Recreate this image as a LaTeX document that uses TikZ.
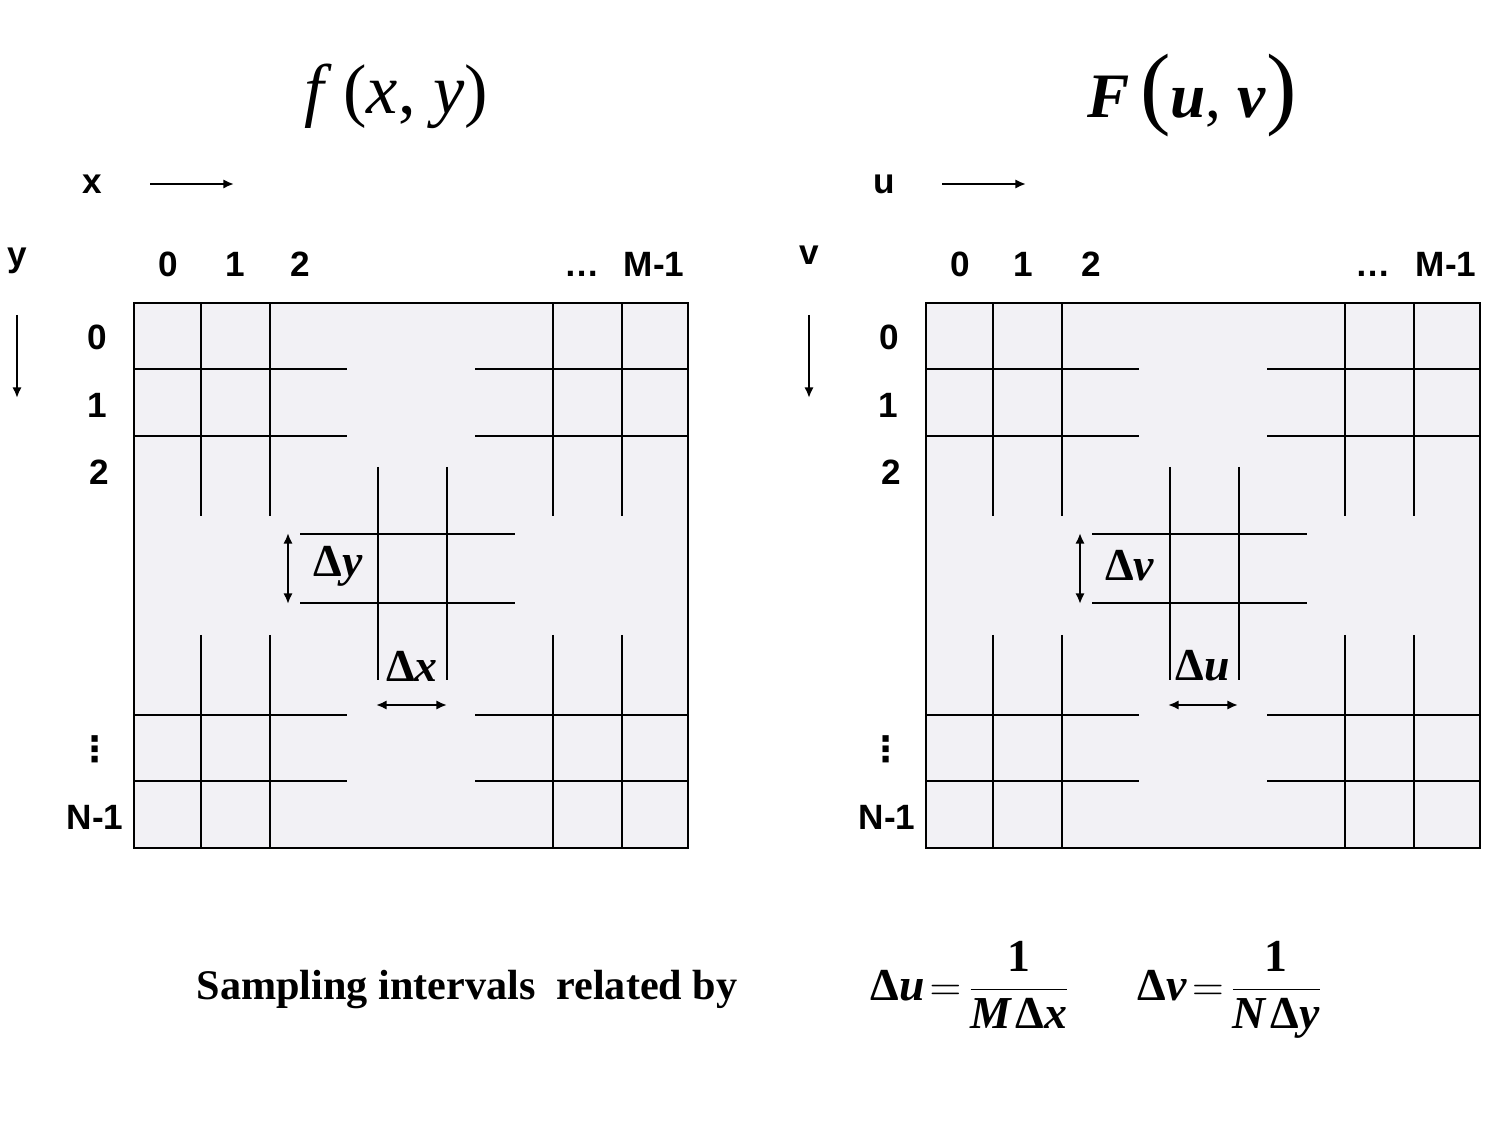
\documentclass[tikz,border=0pt]{standalone}
\usepackage{fontspec}
\setmainfont{Liberation Serif}
\setsansfont{Liberation Sans}
\newfontfamily\dejavu{DejaVu Sans}
\usetikzlibrary{arrows.meta}
\definecolor{cellfill}{RGB}{242,241,245}
\begin{document}
\begin{tikzpicture}[x=0.01cm,y=-0.01cm,
  gridline/.style={line width=0.6pt},
  lab/.style={font=\sffamily\bfseries\fontsize{10}{12}\selectfont, inner sep=0pt},
  blab/.style={lab, anchor=base},
  vdot/.style={font=\dejavu\bfseries\fontsize{10}{12}\selectfont, inner sep=0pt},
  dlab/.style={font=\bfseries\fontsize{13}{15}\selectfont, inner sep=0pt},
  title/.style={font=\fontsize{20}{24}\selectfont, inner sep=0pt},
  formula/.style={font=\bfseries\fontsize{13}{15}\selectfont, inner sep=0pt},
  axarr/.style={-{Latex[length=3pt,width=2.6pt]}, line width=0.6pt},
  darr/.style={{Latex[length=3pt,width=2.6pt]}-{Latex[length=3pt,width=2.6pt]}, line width=0.6pt}]
\useasboundingbox (0,0) rectangle (1500,1125);

% ---------- two grids ----------
\foreach \ox in {0,792}{
\begin{scope}[shift={(\ox,0)}]
  \filldraw[fill=cellfill, gridline] (134,303) rectangle (688,848);
  \foreach \yy in {369,436,715,781}{
    \draw[gridline] (134,\yy) -- (347,\yy);
    \draw[gridline] (475,\yy) -- (688,\yy);
  }
  \foreach \xx in {201,270,553,622}{
    \draw[gridline] (\xx,303) -- (\xx,516);
    \draw[gridline] (\xx,635) -- (\xx,848);
  }
  \foreach \xx in {378,447}{ \draw[gridline] (\xx,467) -- (\xx,680); }
  \foreach \yy in {534,603}{ \draw[gridline] (300,\yy) -- (515,\yy); }
\end{scope}
}

% ---------- left panel ----------
\node[title] (tf) at (396,96) {\textit{f}\,(\textit{x}, \textit{y})};
\node[blab] (lx) at (92,194) {x};
\coordinate (xa1) at (150,184); \coordinate (xa2) at (234,184);
\draw[axarr] (xa1) -- (xa2);
\node[blab] (ly) at (17,267) {y};
\coordinate (ya1) at (17,315); \coordinate (ya2) at (17,398);
\draw[axarr] (ya1) -- (ya2);
\node[blab] (c0) at (168,277) {0};
\node[blab] (c1) at (235,277) {1};
\node[blab] (c2) at (300,277) {2};
\node[blab] (cd) at (582,277) {…};
\node[blab] (cm) at (654,277) {M-1};
\node[lab] (r0) at (97,337) {0};
\node[lab] (r1) at (97,405) {1};
\node[lab] (r2) at (99,472) {2};
\node[vdot] (rd) at (95,749) {⋮};
\node[lab] (rn) at (95,817) {N-1};
\coordinate (dya) at (288,533); \coordinate (dyb) at (288,604);
\draw[darr] (dya) -- (dyb);
\node[dlab] (dy) at (338,566) {Δ\textit{y}};
\coordinate (dxa) at (376,705); \coordinate (dxb) at (447,705);
\draw[darr] (dxa) -- (dxb);
\node[dlab] (dx) at (412,666) {Δ\textit{x}};

% ---------- right panel ----------
\node[title] (tF) at (1192,96) {\fontsize{18}{22}\selectfont\textbf{\textit{F}}\,{\fontsize{26}{28}\selectfont(}\textbf{\textit{u}}, \textbf{\textit{v}}{\fontsize{26}{28}\selectfont)}};
\node[blab] (lu) at (884,194) {u};
\coordinate (ua1) at (942,184); \coordinate (ua2) at (1026,184);
\draw[axarr] (ua1) -- (ua2);
\node[blab] (lv) at (809,265) {v};
\coordinate (va1) at (809,315); \coordinate (va2) at (809,398);
\draw[axarr] (va1) -- (va2);
\node[blab] (k0) at (960,277) {0};
\node[blab] (k1) at (1023,277) {1};
\node[blab] (k2) at (1091,277) {2};
\node[blab] (kd) at (1373,277) {…};
\node[blab] (km) at (1446,277) {M-1};
\node[lab] (s0) at (889,337) {0};
\node[lab] (s1) at (888,405) {1};
\node[lab] (s2) at (891,472) {2};
\node[vdot] (sd) at (886,749) {⋮};
\node[lab] (sn) at (887,817) {N-1};
\coordinate (dva) at (1080,533); \coordinate (dvb) at (1080,604);
\draw[darr] (dva) -- (dvb);
\node[dlab] (dv) at (1130,566) {Δ\textit{v}};
\coordinate (dua) at (1168,705); \coordinate (dub) at (1238,705);
\draw[darr] (dua) -- (dub);
\node[dlab] (du) at (1203,666) {Δ\textit{u}};

% ---------- bottom ----------
\node[formula, font=\bfseries\fontsize{12}{14}\selectfont] (samp) at (467,990) {Sampling intervals\ \ related by};
\node[formula, anchor=base west] (eqa) at (870,1000) {$\displaystyle\mbox{Δ\textit{u}}\mkern-3mu=\mkern-3mu\frac{\mbox{1}}{\mbox{\textit{M}\kern1ptΔ\textit{x}}}$};
\node[formula, anchor=base west] (eqb) at (1137,1000) {$\displaystyle\mbox{Δ\textit{v}}\mkern-3mu=\mkern-3mu\frac{\mbox{1}}{\mbox{\textit{N}\kern1ptΔ\textit{y}}}$};
\end{tikzpicture}
\end{document}
